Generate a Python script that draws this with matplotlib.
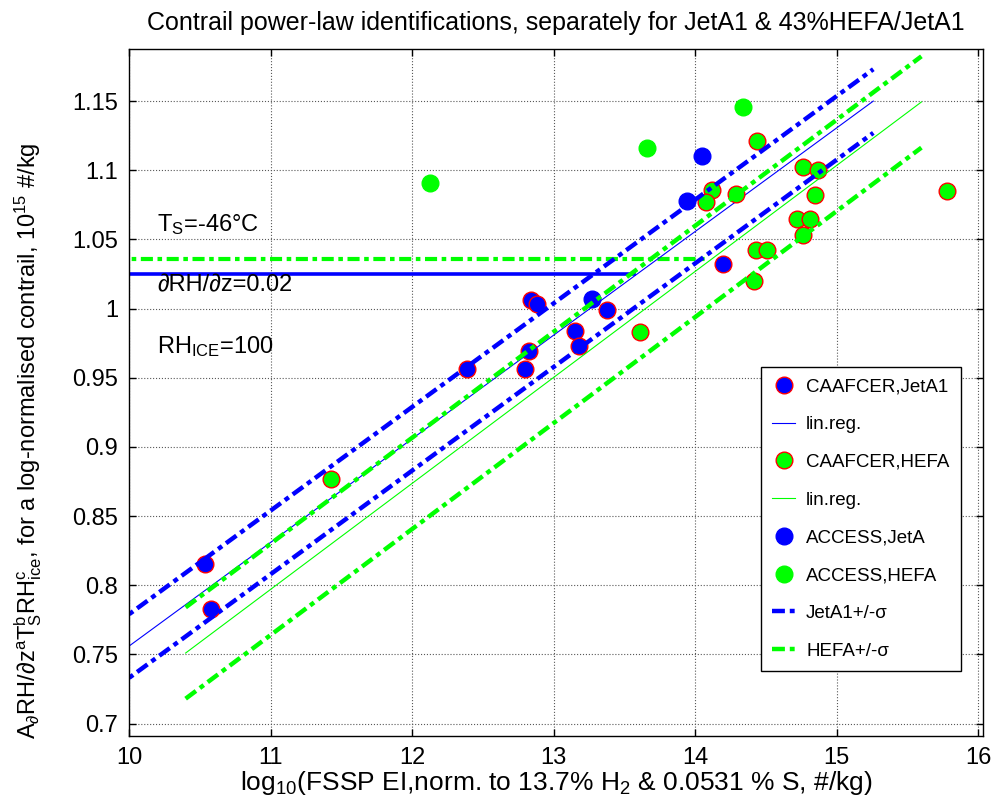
import matplotlib
matplotlib.use('Agg')
import matplotlib.pyplot as plt
import numpy as np

plt.rcParams['font.family'] = ['Liberation Sans', 'DejaVu Sans']
plt.rcParams['mathtext.fontset'] = 'custom'
plt.rcParams['mathtext.rm'] = 'Liberation Sans'
plt.rcParams['mathtext.it'] = 'Liberation Sans'
plt.rcParams['mathtext.default'] = 'regular'

# CAAFCER points, JetA1 and HEFA (log10 EI, normalised contrail value)
caaf_jet_x = [10.54, 10.58, 12.39, 12.80, 12.83, 12.84, 12.88, 13.15, 13.18, 13.38, 14.20]
caaf_jet_y = [0.815, 0.783, 0.956, 0.956, 0.969, 1.006, 1.003, 0.984, 0.973, 0.999, 1.032]
caaf_hefa_x = [11.43, 13.61, 14.42, 14.43, 14.51, 14.76, 14.72, 14.81, 14.85, 14.76, 14.87,
               15.78, 14.44, 14.12, 14.08, 14.29]
caaf_hefa_y = [0.877, 0.983, 1.020, 1.042, 1.042, 1.053, 1.065, 1.065, 1.082, 1.102, 1.100,
               1.085, 1.121, 1.086, 1.077, 1.083]

# ACCESS points
acc_jet_x = [13.27, 13.94, 14.05]
acc_jet_y = [1.007, 1.078, 1.110]
acc_hefa_x = [12.13, 13.66, 14.34]
acc_hefa_y = [1.091, 1.116, 1.146]

# linear regressions: x range, intercept at x0, slope, sigma
jet_x = [9.9, 15.26]
jet_x0, jet_icpt, jet_slope, jet_sigma = 10.0, 0.756, 0.0749, 0.023
hefa_x = [10.4, 15.6]
hefa_x0, hefa_icpt, hefa_slope, hefa_sigma = 10.4, 0.751, 0.0766, 0.033

# reference levels (horizontal lines)
jet_level, jet_level_xmax = 1.025, 13.57
hefa_level, hefa_level_xmax = 1.036, 14.09

xticks = [10, 11, 12, 13, 14, 15, 16]
yticks = [0.7, 0.75, 0.8, 0.85, 0.9, 0.95, 1.0, 1.05, 1.1, 1.15]
ytick_labels = ['0.7', '0.75', '0.8', '0.85', '0.9', '0.95', '1', '1.05', '1.1', '1.15']

BLUE = '#0000ff'
GREEN = '#00ff00'
DASHDOT = (0, (2.9, 1.1, 1.1, 1.1))

fig = plt.figure(figsize=(9.94, 8.01), dpi=100)
ax = fig.add_axes([0.1298, 0.0811, 0.8591, 0.8577])


def fit_line(xr, x0, icpt, slope, off=0.0):
    xr = np.array(xr)
    return xr, icpt + slope * (xr - x0) + off


# horizontal levels
ax.plot([9.9, hefa_level_xmax], [hefa_level] * 2, color=GREEN, lw=3, linestyle=DASHDOT)
ax.plot([9.9, jet_level_xmax], [jet_level] * 2, color=BLUE, lw=2.6)

ax.plot(caaf_jet_x, caaf_jet_y, 'o', ms=12, mfc=BLUE, mec='red', mew=1.0,
        label='CAAFCER,JetA1')
lx, ly = fit_line(jet_x, jet_x0, jet_icpt, jet_slope)
ax.plot(lx, ly, color=BLUE, lw=0.8, label='lin.reg.')
ax.plot(caaf_hefa_x, caaf_hefa_y, 'o', ms=12, mfc=GREEN, mec='red', mew=1.0,
        label='CAAFCER,HEFA')
lx, ly = fit_line(hefa_x, hefa_x0, hefa_icpt, hefa_slope)
ax.plot(lx, ly, color=GREEN, lw=0.8, label='lin.reg.')
ax.plot(acc_jet_x, acc_jet_y, 'o', ms=12, mfc=BLUE, mec=BLUE, mew=1.0,
        label='ACCESS,JetA')
ax.plot(acc_hefa_x, acc_hefa_y, 'o', ms=12, mfc=GREEN, mec=GREEN, mew=1.0,
        label='ACCESS,HEFA')

for k, s in enumerate([1, -1]):
    lx, ly = fit_line(jet_x, jet_x0, jet_icpt, jet_slope, s * jet_sigma)
    ax.plot(lx, ly, color=BLUE, lw=3.2, linestyle=DASHDOT,
            label='JetA1+/-σ' if k == 0 else None)
for k, s in enumerate([1, -1]):
    lx, ly = fit_line(hefa_x, hefa_x0, hefa_icpt, hefa_slope, s * hefa_sigma)
    ax.plot(lx, ly, color=GREEN, lw=3.2, linestyle=DASHDOT,
            label='HEFA+/-σ' if k == 0 else None)

# annotations
ax.text(10.2, 1.056, 'T$_S$=-46°C', fontsize=17, va='baseline')
ax.text(10.2, 1.0125, '∂RH/∂z=0.02', fontsize=17, va='baseline')
ax.text(10.2, 0.968, 'RH$_{ICE}$=100', fontsize=17, va='baseline')

ax.set_xlim(10, 16.035)
ax.set_ylim(0.691, 1.1876)
ax.set_xticks(xticks)
ax.set_yticks(yticks)
ax.set_yticklabels(ytick_labels)
ax.tick_params(direction='in', length=5, width=1, labelsize=17, top=True, right=True, pad=8)
ax.grid(True, color='0.35', linestyle=':', linewidth=0.8)
for sp in ax.spines.values():
    sp.set_linewidth(1.0)

ax.set_title('Contrail power-law identifications, separately for JetA1 & 43%HEFA/JetA1',
             fontsize=18, pad=14)
ax.set_xlabel('log$_{10}$(FSSP EI,norm. to 13.7% H$_2$ & 0.0531 % S, #/kg)', fontsize=19,
              labelpad=0)
ax.set_ylabel('A$_{∂}$RH/∂z$^a$T$_S^b$RH$_{ice}^c$, for a log-normalised contrail, 10$^{15}$ #/kg',
              fontsize=17)
ax.yaxis.set_label_coords(-0.10, 0.43)

leg = ax.legend(loc='upper right', bbox_to_anchor=(0.974, 0.537), fontsize=13.5,
                handlelength=1.2, handletextpad=0.6, labelspacing=1.1, borderpad=0.6,
                borderaxespad=0.0, fancybox=False, edgecolor='black', framealpha=1.0,
                numpoints=1)
leg.get_frame().set_linewidth(1.0)

fig.savefig('out.png', dpi=100)
